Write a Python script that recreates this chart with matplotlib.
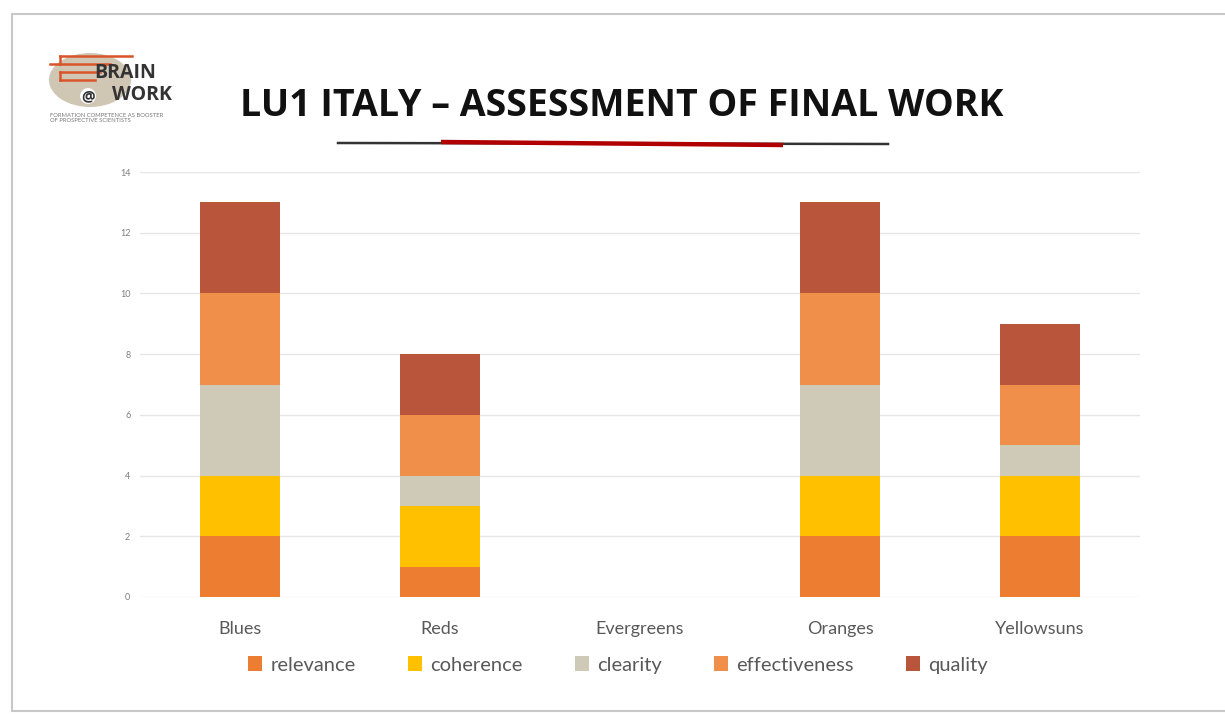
import matplotlib
matplotlib.use("Agg")
import matplotlib.pyplot as plt
import numpy as np
from matplotlib.patches import Rectangle, Ellipse, Patch, Circle

plt.rcParams['font.family'] = ['Lato', 'DejaVu Sans']

teams = ["Blues", "Reds", "Evergreens", "Oranges", "Yellowsuns"]
criteria = ["relevance", "coherence", "clearity", "effectiveness", "quality"]
relevance = [2, 1, 0, 2, 2]
coherence = [2, 2, 0, 2, 2]
clearity = [3, 1, 0, 3, 1]
effectiveness = [3, 2, 0, 3, 2]
quality = [3, 2, 0, 3, 2]
colors = ["#ED7D31", "#FFC000", "#CFCAB8", "#F08F4A", "#B9553A"]
yticks = [0, 2, 4, 6, 8, 10, 12, 14]

W, H = 1225, 715
fig = plt.figure(figsize=(W / 100, H / 100), dpi=100)
fig.patch.set_facecolor("white")

# slide frame
frame = fig.add_axes([0, 0, 1, 1])
frame.set_xlim(0, W)
frame.set_ylim(H, 0)
frame.axis("off")
frame.add_patch(Rectangle((12, 14), W + 20, 697, facecolor="white",
                          edgecolor="#C8C8C8", linewidth=1.5))

# title and underline
frame.text(622, 106, "LU1 ITALY \u2013 ASSESSMENT OF FINAL WORK", ha="center",
           va="center", fontsize=27, fontweight="bold", color="#111111",
           family=["Open Sans", "DejaVu Sans"])
frame.plot([338, 888], [143, 144], color="#333333", linewidth=1.8)
frame.plot([441, 783], [142, 145], color="#B00000", linewidth=3.2,
           solid_capstyle="butt")

# logo
frame.add_patch(Ellipse((90, 80), 82, 54, facecolor="#CFC6B4", edgecolor="none"))
frame.add_patch(Circle((88, 96), 9, facecolor="white", edgecolor="#CFC6B4", linewidth=1.5))
for (x0, x1, y) in [(60, 132, 56), (50, 110, 64), (60, 100, 72), (60, 95, 80)]:
    frame.plot([x0, x1], [y, y], color="#D9542B", linewidth=1.8)
frame.plot([60, 60], [56, 64], color="#D9542B", linewidth=1.8)
frame.plot([60, 60], [72, 80], color="#D9542B", linewidth=1.8)
frame.text(94, 73, "BRAIN", fontsize=14, fontweight="bold", color="#333333",
           va="center", family=["Open Sans", "DejaVu Sans"])
frame.text(88, 96, "@", fontsize=11, fontweight="bold", color="#333333",
           va="center", ha="center", family=["Open Sans", "DejaVu Sans"])
frame.text(112, 95, "WORK", fontsize=14, fontweight="bold", color="#333333",
           va="center", family=["Open Sans", "DejaVu Sans"])
frame.text(50, 118, "FORMATION COMPETENCE AS BOOSTER\nOF PROSPECTIVE SCIENTISTS",
           fontsize=4.2, color="#777777", va="center", linespacing=1.1)

# chart
ax = fig.add_axes([140 / W, (H - 597) / H, 1000 / W, (597 - 172) / H])
ax.set_xlim(-0.5, len(teams) - 0.5)
ax.set_ylim(0, 14)
x = np.arange(len(teams))
series = [relevance, coherence, clearity, effectiveness, quality]
bottom = np.zeros(len(teams))
for name, vals, c in zip(criteria, series, colors):
    ax.bar(x, vals, width=0.4, bottom=bottom, color=c, label=name,
           edgecolor="none", zorder=3)
    bottom += np.array(vals)

ax.set_yticks(yticks)
ax.set_yticklabels([str(v) for v in yticks], fontsize=6.5, color="#7F7F7F")
ax.set_xticks(x)
ax.set_xticklabels(teams, fontsize=13, color="#595959")
ax.tick_params(axis="both", length=0)
ax.tick_params(axis="y", pad=7)
ax.tick_params(axis="x", pad=17)
ax.grid(axis="y", color="#E6E6E6", linewidth=1, zorder=0)
for s in ax.spines.values():
    s.set_visible(False)
ax.set_facecolor("none")

handles = [Patch(facecolor=c, edgecolor="none", label=n) for n, c in zip(criteria, colors)]
fig.legend(handles=handles, loc="center", bbox_to_anchor=(618 / W, (H - 665) / H),
           ncol=5, frameon=False, fontsize=14.5, handlelength=0.7, handleheight=0.7,
           handletextpad=0.4, columnspacing=2.6, labelcolor="#595959")

fig.savefig("out.png", dpi=100)
